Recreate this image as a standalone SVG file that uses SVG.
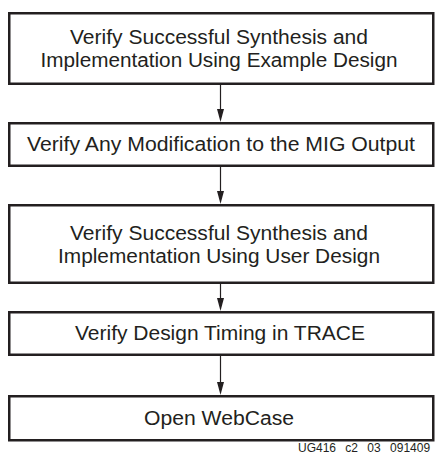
<svg xmlns="http://www.w3.org/2000/svg" width="435" height="460" viewBox="0 0 435 460">
<style>
.box{fill:#fff;stroke:#231f20;stroke-width:2.5}
.t{font-family:"Liberation Sans",Arial,sans-serif;font-size:19.5px;fill:#231f20;text-anchor:middle}
.ft{font-family:"Liberation Sans",Arial,sans-serif;font-size:12px;fill:#231f20;word-spacing:6px}
.ln{stroke:#231f20;stroke-width:1.2;fill:none}
.ah{fill:#231f20}
</style>
<rect width="435" height="460" fill="#fff"/>
<g id="n1"><rect class="box" x="9.25" y="13.25" width="424" height="70.5"/>
<text class="t" x="219" y="44" textLength="298" lengthAdjust="spacingAndGlyphs">Verify Successful Synthesis and</text>
<text class="t" x="219" y="67" textLength="357" lengthAdjust="spacingAndGlyphs">Implementation Using Example Design</text></g>
<g id="n2"><rect class="box" x="9.25" y="123.25" width="424" height="42.5"/>
<text class="t" x="221" y="151.2" textLength="388" lengthAdjust="spacingAndGlyphs">Verify Any Modification to the MIG Output</text></g>
<g id="n3"><rect class="box" x="9.25" y="205.25" width="424" height="77.5"/>
<text class="t" x="219" y="239.5" textLength="298" lengthAdjust="spacingAndGlyphs">Verify Successful Synthesis and</text>
<text class="t" x="219" y="262.5" textLength="322" lengthAdjust="spacingAndGlyphs">Implementation Using User Design</text></g>
<g id="n4"><rect class="box" x="9.25" y="312.25" width="424" height="42.5"/>
<text class="t" x="220" y="340" textLength="290" lengthAdjust="spacingAndGlyphs">Verify Design Timing in TRACE</text></g>
<g id="n5"><rect class="box" x="9.25" y="396.25" width="424" height="44"/>
<text class="t" x="219" y="425" textLength="150" lengthAdjust="spacingAndGlyphs">Open WebCase</text></g>
<g id="connectors">
<line class="ln" x1="220.5" y1="84.5" x2="220.5" y2="110"/><polygon class="ah" points="217,109 224,109 220.5,122"/>
<line class="ln" x1="220.5" y1="167" x2="220.5" y2="192"/><polygon class="ah" points="217,191 224,191 220.5,204"/>
<line class="ln" x1="220.5" y1="284" x2="220.5" y2="299"/><polygon class="ah" points="217,298 224,298 220.5,311"/>
<line class="ln" x1="220.5" y1="356" x2="220.5" y2="383"/><polygon class="ah" points="217,382 224,382 220.5,395"/>
</g>
<text class="ft" x="298" y="452">UG416 c2 03 091409</text>
</svg>
